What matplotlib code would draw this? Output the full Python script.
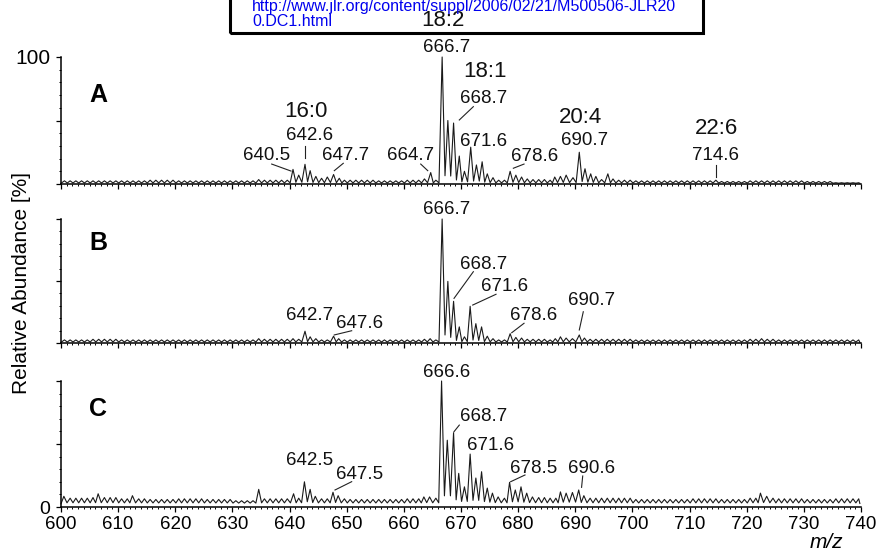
import matplotlib
matplotlib.use('Agg')
import matplotlib.pyplot as plt
from matplotlib.patches import Rectangle
from matplotlib.ticker import MultipleLocator

plt.rcParams['font.family'] = ['Liberation Sans', 'DejaVu Sans']

# peak lists: (m/z, relative abundance %)
peaks_A = [
    (634.6, 3.5), (640.6, 11.5), (641.6, 7), (642.7, 15.5), (643.6, 10.5), (644.6, 6),
    (645.6, 4.5), (646.6, 5.5), (647.7, 7.5), (648.7, 4.5), (663.6, 4), (664.7, 9),
    (666.7, 100), (667.7, 50), (668.7, 48), (669.7, 22), (670.6, 10), (671.7, 29),
    (672.7, 15), (673.7, 17.5), (674.6, 8), (675.6, 5),
    (678.6, 10), (679.6, 7), (680.6, 5.5), (681.6, 4), (686.4, 5.5), (687.4, 6),
    (688.4, 7), (689.6, 5), (690.7, 25), (691.7, 12), (692.7, 8), (693.6, 6),
    (694.6, 3.5), (695.7, 8), (696.6, 4), (714.6, 3),
]
peaks_B = [
    (634.6, 3.5), (640.6, 3.5), (642.7, 9.5), (643.6, 5), (644.6, 3.5), (647.7, 5.5),
    (648.6, 3.5), (663.6, 3), (664.6, 3.5),
    (666.7, 100), (667.7, 49.7), (668.7, 33.6), (669.7, 13), (670.6, 5), (671.6, 29.6),
    (672.6, 15.6), (673.6, 13), (674.6, 5.5), (675.6, 3.5),
    (678.6, 7.5), (679.6, 4.5), (680.6, 4), (686.5, 3.5), (687.4, 5), (688.4, 4),
    (689.5, 3.5), (690.7, 6.5), (691.6, 4), (722.6, 3.5), (723.6, 3),
]
peaks_C = [
    (600.5, 8.5), (606.5, 10.5), (612.5, 9), (634.6, 14), (640.7, 10.5), (642.6, 20),
    (643.6, 14), (644.5, 8.5), (647.6, 11.7), (648.5, 9), (663.5, 8), (664.5, 8),
    (666.6, 100), (667.6, 53), (668.7, 59), (669.6, 26.7), (670.6, 16), (671.6, 42),
    (672.6, 23), (673.6, 28), (674.6, 15), (675.5, 11), (676.5, 8),
    (678.5, 19.6), (679.5, 13.5), (680.5, 16), (681.5, 11), (682.5, 8), (687.4, 12),
    (688.4, 11), (689.5, 11.5), (690.6, 13.5), (691.5, 9), (722.4, 11), (723.5, 8.5),
]

# baseline ripple height per 5 m/z bin (600-605, ..., 735-740) and valley level
noise_A = [2.5, 2.5, 2.5, 3, 2.5, 2.5, 2.5, 3, 3, 3, 3, 2.5, 3, 3,
           3, 3, 3.5, 3, 3.5, 3, 2.5, 2.5, 2.5, 2, 2.5, 2.5, 2, 1]
noise_B = [2.5, 3, 2.5, 2.5, 2.5, 2.5, 2.5, 3, 3, 2.5, 2.5, 2.5, 2.5, 2.5,
           2.5, 2.5, 3, 2.5, 3, 3, 2.5, 2.5, 2.5, 2.5, 3, 2.5, 2.5, 2.5]
noise_C = [7, 7.5, 6.5, 6, 6.5, 6, 5, 6.5, 7, 6.5, 6, 6, 6.5, 7,
           7, 7, 7.5, 7, 7, 7, 6, 6, 6.5, 6, 7, 6.5, 6, 6.5]
floor_A, floor_B, floor_C = 0.5, 0.5, 2.5

# annotation texts
labels_A = ['18:2', '666.7', '18:1', '668.7', '671.6', '678.6', '20:4', '690.7',
            '22:6', '714.6', '16:0', '642.6', '640.5', '647.7', '664.7']
labels_B = ['666.7', '668.7', '671.6', '678.6', '690.7', '642.7', '647.6']
labels_C = ['666.6', '668.7', '671.6', '678.5', '690.6', '642.5', '647.5']
xticks = list(range(600, 741, 10))

# --- layout (data coords of label centres and leader lines) ---
pos_A = [(666.9, 130.5), (667.5, 108.7), (674.2, 89.8), (673.9, 68.7), (673.9, 34.6),
         (682.8, 22.8), (690.9, 53.7), (691.6, 35.5), (714.75, 45.1), (714.45, 23.6),
         (642.85, 58.7), (643.5, 39.6), (635.9, 23.6), (649.85, 23.6), (661.1, 23.6)]
big_A = {'18:2', '18:1', '20:4', '22:6', '16:0'}
leaders_A = [((636.87, 15.7), (640.25, 10.2)), ((642.7, 29.9), (642.7, 20.5)),
             ((649.4, 16.3), (647.83, 10.5)), ((662.95, 15.7), (664.18, 10.5)),
             ((672.16, 60.9), (669.7, 50.4)), ((681.03, 15.7), (679.16, 12.4)),
             ((714.6, 15.0), (714.6, 5.7))]
pos_B = [(667.5, 108.9), (673.9, 65), (677.65, 47), (682.7, 24), (692.8, 35.6),
         (643.5, 24), (652.3, 17.2)]
leaders_B = [((672.16, 57.5), (668.78, 36.0)), ((676.13, 39.3), (672.05, 30.6)),
             ((681.03, 15.9), (678.88, 8.3)), ((691.4, 25.2), (690.7, 10.5)),
             ((650.87, 9.9), (647.83, 6.5))]
pos_C = [(667.5, 108.3), (673.9, 73.7), (675.1, 50.5), (682.7, 32.3), (692.9, 32.3),
         (643.5, 38.2), (652.3, 27)]
leaders_C = [((669.7, 65), (668.78, 59.8)), ((681.2, 25.4), (678.7, 20.1)),
             ((691.3, 24.6), (691.1, 15.6)), ((650.87, 20.1), (647.95, 13.5))]


def build_trace(peaks, noise, floor):
    tops = list(peaks)
    for m in range(600, 740):
        c = m + 0.6
        if all(abs(c - p[0]) > 0.55 for p in peaks):
            tops.append((c, noise[(m - 600) // 5]))
    tops.sort()
    xs, ys = [600.0], [floor]
    for i, (m, h) in enumerate(tops):
        xs.append(m)
        ys.append(h)
        nxt = tops[i + 1] if i + 1 < len(tops) else (740.0, floor)
        xs.append(min((m + nxt[0]) / 2, 740.0))
        ys.append(floor + 0.12 * min(h, nxt[1]))
    return xs, ys


W, H = 880, 558
fig = plt.figure(figsize=(W / 100, H / 100), dpi=100)


def px_axes(top, bottom):
    return fig.add_axes([61 / W, 1 - bottom / H, 800 / W, (bottom - top) / H])


panels = [
    (px_axes(57, 184), peaks_A, noise_A, floor_A, 'A', 70, labels_A, pos_A, leaders_A),
    (px_axes(219, 343), peaks_B, noise_B, floor_B, 'B', 81, labels_B, pos_B, leaders_B),
    (px_axes(381, 507), peaks_C, noise_C, floor_C, 'C', 77.4, labels_C, pos_C, leaders_C),
]

for i, (ax, pk, nz, fl, letter, ly, labs, pos, leads) in enumerate(panels):
    xs, ys = build_trace(pk, nz, fl)
    ax.plot(xs, ys, color='#1a1a1a', lw=0.8, clip_on=False)
    ax.set_xlim(600, 740)
    ax.set_ylim(0, 100)
    for s in ('top', 'right'):
        ax.spines[s].set_visible(False)
    for s in ('left', 'bottom'):
        ax.spines[s].set_linewidth(1.1)
    ax.xaxis.set_major_locator(MultipleLocator(10))
    ax.xaxis.set_minor_locator(MultipleLocator(1))
    ax.yaxis.set_major_locator(MultipleLocator(50))
    ax.yaxis.set_minor_locator(MultipleLocator(10))
    ax.tick_params(which='major', direction='out', length=3.8, width=0.9)
    ax.tick_params(which='minor', direction='out', length=1.6, width=0.7)
    ax.tick_params(axis='x', labelsize=13.5, pad=3)
    if i < 2:
        ax.tick_params(axis='x', labelbottom=False)
    else:
        ax.set_xticks(xticks)
    if i == 0:
        ax.set_yticks([0, 50, 100], ['', '', '100'])
        ax.tick_params(axis='y', labelsize=15, pad=4)
    elif i == 2:
        ax.set_yticks([0, 50, 100], ['0', '', ''])
        ax.tick_params(axis='y', labelsize=14, pad=4)
    else:
        ax.set_yticks([0, 50, 100], ['', '', ''])

    ax.text(606.5, ly, letter, fontsize=18, fontweight='bold', ha='center', va='center')
    for t, (x, y) in zip(labs, pos):
        size = 16 if t in big_A else 13.5
        ax.text(x, y - 1.5, t, fontsize=size, ha='center', va='center',
                clip_on=False, zorder=5, color='#111111')
    for (x0, y0), (x1, y1) in leads:
        ax.plot([x0, x1], [y0, y1], color='#222222', lw=0.8, clip_on=False)

# link box at the top
fig.patches.append(Rectangle((230 / W, 1 - 33 / H), 473 / W, 40 / H, transform=fig.transFigure,
                             facecolor='none', edgecolor='black', lw=2.2))
fig.text(252 / W, 1 - 6 / H, 'http://www.jlr.org/content/suppl/2006/02/21/M500506-JLR20',
         color='#0000ee', fontsize=11.5, ha='left', va='center')
fig.text(252 / W, 1 - 21 / H, '0.DC1.html', color='#0000ee', fontsize=11.5,
         ha='left', va='center')

fig.text(22 / W, 1 - 283 / H, 'Relative Abundance [%]', rotation=90, fontsize=15,
         ha='center', va='center')
fig.text(826 / W, 1 - 543 / H, 'm/z', fontsize=15, style='italic', ha='center', va='center')

fig.savefig('out.png', dpi=100)
